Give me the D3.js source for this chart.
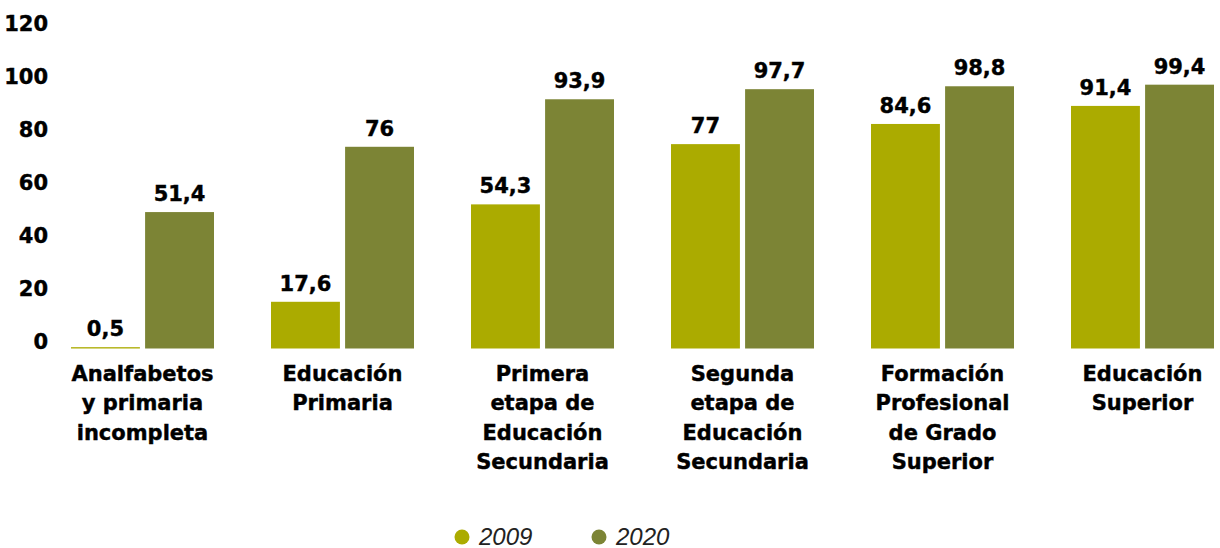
<!DOCTYPE html>
<html>
<head>
<meta charset="utf-8">
<script src="https://cdn.jsdelivr.net/npm/d3@7"></script>
<style>
  html, body { margin: 0; padding: 0; background: #ffffff; }
  svg { display: block; }
  .heavy { stroke: #000; stroke-width: 0.4px; paint-order: stroke fill; }
</style>
</head>
<body>
<svg id="chart" width="1220" height="548"></svg>
<script>
// Education levels (one entry per group, line breaks mark wrapping)
const categories = [
  "Analfabetos\ny primaria\nincompleta",
  "Educación\nPrimaria",
  "Primera\netapa de\nEducación\nSecundaria",
  "Segunda\netapa de\nEducación\nSecundaria",
  "Formación\nProfesional\nde Grado\nSuperior",
  "Educación\nSuperior"
];
const seriesNames = ["2009", "2020"];
const values2009 = [0.5, 17.6, 54.3, 77, 84.6, 91.4];
const values2020 = [51.4, 76, 93.9, 97.7, 98.8, 99.4];
const yTicks = [0, 20, 40, 60, 80, 100, 120];
const colors = ["#abab00", "#7c8435"];

const fontBold = "'DejaVu Sans', 'Open Sans', sans-serif";
const svg = d3.select("#chart");

const rows = categories.map((c, i) => ({ cat: c, vals: [values2009[i], values2020[i]] }));

const x0 = d3.scaleBand().domain(categories).range([71, 1214]).paddingInner(0.285).paddingOuter(0);
const x1 = d3.scaleBand().domain(seriesNames).range([0, x0.bandwidth()]).paddingInner(0.07);
const y = d3.scaleLinear().domain([0, 120]).range([348.5, 30]);
const color = d3.scaleOrdinal().domain(seriesNames).range(colors);

// Y axis: labels only, no line or ticks
const yAxis = d3.axisLeft(y).tickValues(yTicks).tickSize(0).tickPadding(0).tickFormat(d3.format("d"));
const gy = svg.append("g").attr("transform", "translate(48,0)").call(yAxis);
gy.select(".domain").remove();
gy.selectAll("text")
  .attr("class", "heavy")
  .attr("dy", 0)
  .attr("font-family", fontBold)
  .attr("font-weight", 700)
  .attr("font-size", 21)
  .attr("fill", "#000");

// Bars and value labels
const groups = svg.append("g").selectAll("g")
  .data(rows).join("g")
  .attr("transform", d => `translate(${x0(d.cat)},0)`);

groups.selectAll("rect")
  .data(d => d.vals.map((v, j) => ({ key: seriesNames[j], v })))
  .join("rect")
  .attr("x", d => x1(d.key))
  .attr("y", d => y(d.v))
  .attr("width", x1.bandwidth())
  .attr("height", d => y(0) - y(d.v))
  .attr("fill", d => color(d.key));

const fmt = v => String(v).replace(".", ",");
groups.selectAll("text.val")
  .data(d => d.vals.map((v, j) => ({ key: seriesNames[j], v })))
  .join("text")
  .attr("class", "val heavy")
  .attr("x", d => x1(d.key) + x1.bandwidth() / 2)
  .attr("y", d => y(d.v) - 11)
  .attr("text-anchor", "middle")
  .attr("font-family", fontBold)
  .attr("font-weight", 700)
  .attr("font-size", 21)
  .attr("fill", "#000")
  .text(d => fmt(d.v));

// Category labels below the bars
const xAxisG = svg.append("g");
rows.forEach(r => {
  const cx = x0(r.cat) + x0.bandwidth() / 2;
  const t = xAxisG.append("text")
    .attr("class", "heavy")
    .attr("x", cx)
    .attr("y", 381)
    .attr("text-anchor", "middle")
    .attr("font-family", fontBold)
    .attr("font-weight", 700)
    .attr("font-size", 21)
    .attr("fill", "#000");
  r.cat.split("\n").forEach((line, k) => {
    t.append("tspan")
      .attr("x", cx)
      .attr("y", 381 + k * 29.3)
      .text(line);
  });
});

// Legend
const legendX = [462, 599];
const legend = svg.append("g").selectAll("g")
  .data(seriesNames).join("g")
  .attr("transform", (d, i) => `translate(${legendX[i]},537)`);
legend.append("circle").attr("r", 7.5).attr("fill", d => color(d));
legend.append("text")
  .attr("x", 17)
  .attr("y", 7.5)
  .attr("font-family", "'Liberation Sans', Arial, sans-serif")
  .attr("font-style", "italic")
  .attr("font-size", 24)
  .attr("fill", "#222")
  .text(d => d);
</script>
</body>
</html>
